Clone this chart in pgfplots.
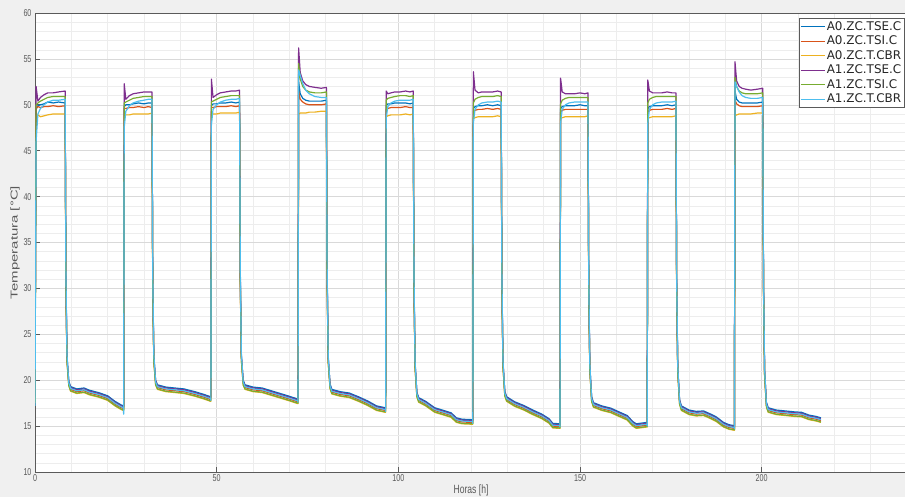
\documentclass[border=0pt]{standalone}
\usepackage{fontspec}
\usepackage{pgfplots}
\usepackage{pgfplotstable}
\pgfplotsset{compat=1.18}
\setmainfont{DejaVu Sans}
\newfontfamily\narrowfont[FakeStretch=0.72]{Liberation Sans}
\newfontfamily\widefont[FakeStretch=1.5]{Liberation Sans}

\definecolor{figbg}{RGB}{240,240,240}
\definecolor{axgray}{RGB}{90,90,90}
\definecolor{mblue}{RGB}{0,114,189}
\definecolor{mred}{RGB}{217,83,25}
\definecolor{myellow}{RGB}{237,177,32}
\definecolor{mpurple}{RGB}{126,47,142}
\definecolor{mgreen}{RGB}{119,172,48}
\definecolor{mcyan}{RGB}{77,190,238}

% t  A0.ZC.TSE.C  A0.ZC.TSI.C  A0.ZC.T.CBR  A1.ZC.TSE.C  A1.ZC.TSI.C  A1.ZC.T.CBR
\pgfplotstableread{
t      a0tse  a0tsi  a0cbr  a1tse  a1tsi  a1cbr
0.0    18.00  17.80  17.50  18.20  17.60  17.20
0.3    49.50  49.60  48.80  52.00  50.00  46.00
0.8    49.90  49.80  48.90  50.40  50.20  49.00
1.5    50.00  49.70  48.70  50.80  50.40  49.60
2.5    50.10  49.80  48.80  51.10  50.60  50.00
3.5    50.30  49.80  48.90  51.30  50.80  50.30
5.0    50.20  49.90  49.00  51.30  50.90  50.50
6.5    50.30  49.80  49.00  51.40  50.90  50.50
8.3    50.20  49.90  49.00  51.50  50.90  50.60
8.5    31.00  30.50  30.00  31.50  30.80  32.00
8.8    22.50  22.20  22.00  22.60  22.10  22.80
9.3    19.90  19.60  19.40  19.80  19.40  19.70
9.8    19.30  19.00  18.80  19.20  18.85  19.10
11.5   19.05  18.75  18.55  18.95  18.60  18.85
13.5   19.15  18.85  18.65  19.05  18.70  18.95
15.0   18.90  18.60  18.40  18.80  18.45  18.70
17.5   18.65  18.35  18.15  18.55  18.20  18.45
20.0   18.30  18.00  17.80  18.20  17.85  18.10
22.0   17.70  17.40  17.20  17.60  17.25  17.50
23.5   17.35  17.05  16.85  17.25  16.90  17.15
24.3   17.20  16.90  16.70  17.10  16.75  17.00
24.4   17.20  16.90  16.70  17.10  16.75  16.30
24.55  49.80  49.60  48.80  52.30  50.20  47.50
25.0   50.00  49.60  48.90  50.60  50.30  49.30
26.0   50.00  49.70  48.90  51.00  50.50  49.90
27.0   50.10  49.70  49.00  51.20  50.70  50.20
28.5   50.20  49.80  49.00  51.30  50.80  50.40
30.0   50.10  49.70  49.00  51.40  50.90  50.50
31.2   50.20  49.80  49.00  51.40  50.90  50.60
32.2   50.20  49.70  49.10  51.40  50.90  50.60
32.4   31.00  30.50  30.00  31.50  30.80  32.00
32.7   22.50  22.20  22.00  22.60  22.10  22.80
33.2   20.00  19.70  19.50  19.90  19.50  19.80
33.7   19.50  19.20  19.00  19.40  19.05  19.30
36.0   19.25  18.95  18.75  19.15  18.80  19.05
38.5   19.15  18.85  18.65  19.05  18.70  18.95
41.0   19.05  18.75  18.55  18.95  18.60  18.85
44.0   18.75  18.45  18.25  18.65  18.30  18.55
46.5   18.45  18.15  17.95  18.35  18.00  18.25
48.3   18.20  17.90  17.70  18.10  17.75  18.00
48.4   18.20  17.90  17.70  18.10  17.75  17.80
48.55  49.90  49.70  48.90  52.80  50.30  47.80
49.0   50.10  49.70  49.00  50.80  50.40  49.50
50.0   50.10  49.80  49.00  51.10  50.60  50.00
51.0   50.20  49.80  49.10  51.30  50.80  50.30
52.5   50.20  49.80  49.10  51.40  50.90  50.50
54.0   50.30  49.90  49.10  51.50  51.00  50.60
55.3   50.20  49.80  49.10  51.50  51.00  50.60
56.3   50.30  49.90  49.20  51.60  51.00  50.70
56.5   31.20  30.60  30.10  31.60  30.90  32.20
56.8   22.60  22.30  22.10  22.70  22.20  22.90
57.3   20.00  19.70  19.50  19.90  19.50  19.80
57.8   19.50  19.20  19.00  19.40  19.05  19.30
60.0   19.25  18.95  18.75  19.15  18.80  19.05
62.5   19.15  18.85  18.65  19.05  18.70  18.95
65.0   18.85  18.55  18.35  18.75  18.40  18.65
67.5   18.55  18.25  18.05  18.45  18.10  18.35
70.0   18.25  17.95  17.75  18.15  17.80  18.05
72.3   17.95  17.65  17.45  17.85  17.50  17.75
72.4   17.95  17.65  17.45  17.85  17.50  17.60
72.55  52.50  51.50  49.00  56.20  54.50  53.80
73.0   51.20  50.60  49.10  53.50  52.80  53.20
73.7   50.70  50.30  49.10  52.60  52.00  52.30
74.5   50.50  50.10  49.10  52.20  51.60  51.60
75.5   50.40  50.00  49.20  52.00  51.40  51.20
77.0   50.40  50.00  49.20  51.90  51.30  50.90
78.8   50.40  50.00  49.30  51.80  51.30  50.80
80.2   50.50  50.10  49.30  51.90  51.40  50.80
80.4   31.50  30.80  30.20  31.80  31.10  32.30
80.7   22.40  22.10  21.90  22.50  22.00  22.70
81.2   19.60  19.30  19.10  19.50  19.10  19.40
81.7   19.00  18.70  18.50  18.90  18.55  18.80
84.0   18.75  18.45  18.25  18.65  18.30  18.55
86.5   18.60  18.30  18.10  18.50  18.15  18.40
89.0   18.20  17.90  17.70  18.10  17.75  18.00
91.5   17.75  17.45  17.25  17.65  17.30  17.55
94.0   17.20  16.90  16.70  17.10  16.75  17.00
96.4   17.00  16.70  16.50  16.90  16.55  16.80
96.5   17.00  16.70  16.50  16.90  16.55  16.60
96.65  49.90  49.50  48.70  51.50  50.50  48.50
97.1   50.10  49.60  48.80  51.20  50.70  49.80
98.0   50.10  49.70  48.90  51.30  50.80  50.20
99.0   50.20  49.70  48.90  51.40  50.90  50.40
100.5  50.20  49.70  48.90  51.40  51.00  50.50
102.0  50.20  49.80  49.00  51.50  51.00  50.50
103.2  50.10  49.70  48.90  51.40  50.90  50.50
104.1  50.20  49.70  49.00  51.50  51.00  50.60
104.3  30.80  30.30  29.80  31.20  30.60  31.80
104.6  21.80  21.50  21.30  21.90  21.40  22.10
105.1  18.70  18.40  18.20  18.60  18.20  18.50
105.6  18.10  17.80  17.60  18.00  17.65  17.90
107.5  17.70  17.40  17.20  17.60  17.25  17.50
110.0  17.00  16.70  16.50  16.90  16.55  16.80
112.5  16.70  16.40  16.20  16.60  16.25  16.50
114.5  16.45  16.15  15.95  16.35  16.00  16.25
116.0  15.90  15.60  15.40  15.80  15.45  15.70
117.5  15.75  15.45  15.25  15.65  15.30  15.55
120.4  15.70  15.40  15.20  15.60  15.25  15.50
120.5  15.70  15.40  15.20  15.60  15.25  15.30
120.65 49.60  49.30  48.50  53.60  50.20  48.00
121.1  49.80  49.40  48.60  51.60  50.60  49.50
122.0  49.90  49.50  48.70  51.30  50.80  50.00
123.0  49.90  49.50  48.70  51.40  50.90  50.20
124.5  50.00  49.60  48.70  51.40  50.90  50.30
126.0  49.90  49.50  48.70  51.40  50.90  50.30
127.3  50.00  49.60  48.80  51.50  51.00  50.40
128.3  49.90  49.50  48.70  51.40  50.90  50.30
128.5  30.60  30.10  29.60  31.00  30.40  31.60
128.8  21.90  21.60  21.40  22.00  21.50  22.20
129.3  18.80  18.50  18.30  18.70  18.30  18.60
129.8  18.20  17.90  17.70  18.10  17.75  18.00
132.0  17.65  17.35  17.15  17.55  17.20  17.45
134.5  17.25  16.95  16.75  17.15  16.80  17.05
137.0  16.75  16.45  16.25  16.65  16.30  16.55
139.5  16.30  16.00  15.80  16.20  15.85  16.10
141.5  15.80  15.50  15.30  15.70  15.35  15.60
142.5  15.30  15.00  14.80  15.20  14.85  15.10
144.4  15.25  14.95  14.75  15.15  14.80  15.05
144.5  15.25  14.95  14.75  15.15  14.80  14.90
144.65 49.60  49.20  48.50  52.90  50.10  48.00
145.1  49.80  49.40  48.60  51.40  50.50  49.50
146.0  49.90  49.50  48.70  51.20  50.70  50.00
147.0  49.90  49.50  48.70  51.20  50.80  50.20
148.5  49.90  49.50  48.70  51.20  50.80  50.30
150.0  50.00  49.50  48.70  51.30  50.80  50.30
151.3  49.90  49.50  48.70  51.20  50.80  50.30
152.2  49.90  49.50  48.80  51.30  50.80  50.30
152.4  30.40  29.90  29.40  30.80  30.20  31.40
152.7  21.50  21.20  21.00  21.60  21.10  21.80
153.2  18.20  17.90  17.70  18.10  17.70  18.00
153.7  17.55  17.25  17.05  17.45  17.10  17.35
156.0  17.20  16.90  16.70  17.10  16.75  17.00
158.5  16.95  16.65  16.45  16.85  16.50  16.75
161.0  16.50  16.20  16.00  16.40  16.05  16.30
163.0  16.15  15.85  15.65  16.05  15.70  15.95
164.5  15.50  15.20  15.00  15.40  15.05  15.30
165.5  15.25  14.95  14.75  15.15  14.80  15.05
168.4  15.40  15.10  14.90  15.30  14.95  15.20
168.5  15.40  15.10  14.90  15.30  14.95  15.00
168.65 49.60  49.20  48.50  52.70  50.20  48.00
169.1  49.80  49.40  48.60  51.50  50.60  49.50
170.0  49.90  49.50  48.70  51.30  50.80  50.00
171.0  49.90  49.50  48.70  51.30  50.90  50.20
172.5  49.90  49.50  48.70  51.30  50.90  50.30
174.0  50.00  49.60  48.70  51.40  50.90  50.30
175.3  49.90  49.50  48.70  51.30  50.90  50.30
176.4  50.00  49.60  48.80  51.30  50.90  50.40
176.6  30.30  29.80  29.30  30.70  30.10  31.30
176.9  21.30  21.00  20.80  21.40  20.90  21.60
177.4  17.90  17.60  17.40  17.80  17.40  17.70
177.9  17.20  16.90  16.70  17.10  16.75  17.00
180.0  16.75  16.45  16.25  16.65  16.30  16.55
182.0  16.60  16.30  16.10  16.50  16.15  16.40
184.0  16.65  16.35  16.15  16.55  16.20  16.45
186.0  16.30  16.00  15.80  16.20  15.85  16.10
187.5  16.00  15.70  15.50  15.90  15.55  15.80
189.5  15.40  15.10  14.90  15.30  14.95  15.20
191.0  15.15  14.85  14.65  15.05  14.70  14.95
192.4  15.05  14.75  14.55  14.95  14.60  14.85
192.5  15.05  14.75  14.55  14.95  14.60  14.70
192.65 51.50  50.50  48.80  54.70  53.00  52.50
193.1  50.60  50.10  48.90  52.60  52.00  52.00
193.8  50.30  49.90  49.00  52.00  51.50  51.40
194.6  50.20  49.80  49.00  51.80  51.30  51.00
195.6  50.20  49.80  49.00  51.70  51.20  50.80
197.0  50.20  49.80  49.00  51.60  51.20  50.70
198.8  50.20  49.80  49.10  51.70  51.20  50.70
200.3  50.30  49.90  49.10  51.80  51.30  50.80
200.5  30.50  30.00  29.50  30.90  30.30  31.50
200.8  21.00  20.70  20.50  21.10  20.60  21.30
201.3  17.60  17.30  17.10  17.50  17.10  17.40
201.8  17.00  16.70  16.50  16.90  16.55  16.80
204.0  16.75  16.45  16.25  16.65  16.30  16.55
206.5  16.65  16.35  16.15  16.55  16.20  16.45
209.0  16.55  16.25  16.05  16.45  16.10  16.35
211.0  16.50  16.20  16.00  16.40  16.05  16.30
213.0  16.20  15.90  15.70  16.10  15.75  16.00
215.0  16.05  15.75  15.55  15.95  15.60  15.85
216.3  15.90  15.60  15.40  15.80  15.45  15.70
}\tempdata

\begin{document}
\begin{tikzpicture}[x=1bp,y=1bp]
\fill[figbg] (0,0) rectangle (905,497);
\useasboundingbox (0,0) rectangle (905,497);
\begin{axis}[
  at={(35bp,25bp)}, anchor=south west,
  scale only axis, width=872bp, height=459bp,
  xmin=0, xmax=240, ymin=10, ymax=60,
  xtick={0,50,...,250}, ytick={10,15,...,60},
  minor x tick num=4, minor y tick num=4,
  grid=both,
  major grid style={draw=black!15, line width=0.5pt},
  minor grid style={draw=black!7, line width=0.4pt},
  axis background/.style={fill=white},
  axis line style={draw=axgray, line width=0.6pt},
  tick align=inside, tick pos=left,
  major tick length=5bp, minor tick length=0pt,
  tick style={draw=axgray, line width=0.6pt},
  /pgf/number format/assume math mode=true,
  ticklabel style={font=\narrowfont\fontsize{10}{11}\selectfont, text=axgray},
  xticklabel style={yshift=1bp},
  xlabel={Horas [h]}, ylabel={Temperatura [°C]},
  xlabel style={font=\narrowfont\fontsize{12}{13}\selectfont, text=axgray,
    at={(axis description cs:0.5,-0.040)}, anchor=center},
  ylabel style={font=\widefont\fontsize{10}{11}\selectfont, text=axgray,
    at={(axis description cs:-0.023,0.5)}, anchor=center},
  legend style={at={(axis description cs:0.9966,0.989)}, anchor=north east,
    draw=axgray, fill=white, line width=0.5pt,
    font=\fontsize{12}{13}\selectfont, text=black!85,
    inner xsep=1bp, inner ysep=1.5bp, row sep=1.2bp,
    nodes={inner xsep=1.5bp, inner ysep=1.5bp}},
  legend cell align=left,
  legend image code/.code={\draw[#1, line width=0.6pt] (0bp,0bp) -- (24bp,0bp);},
  every axis plot/.append style={line width=1.2pt, mark=none, line join=round},
]
\addplot[mblue]   table[x=t, y=a0tse] {\tempdata};
\addplot[mred]    table[x=t, y=a0tsi] {\tempdata};
\addplot[myellow] table[x=t, y=a0cbr] {\tempdata};
\addplot[mpurple] table[x=t, y=a1tse] {\tempdata};
\addplot[mgreen]  table[x=t, y=a1tsi] {\tempdata};
\addplot[mcyan]   table[x=t, y=a1cbr] {\tempdata};
\legend{A0.ZC.TSE.C, A0.ZC.TSI.C, A0.ZC.T.CBR, A1.ZC.TSE.C, A1.ZC.TSI.C, A1.ZC.T.CBR}
\end{axis}
\end{tikzpicture}
\end{document}
